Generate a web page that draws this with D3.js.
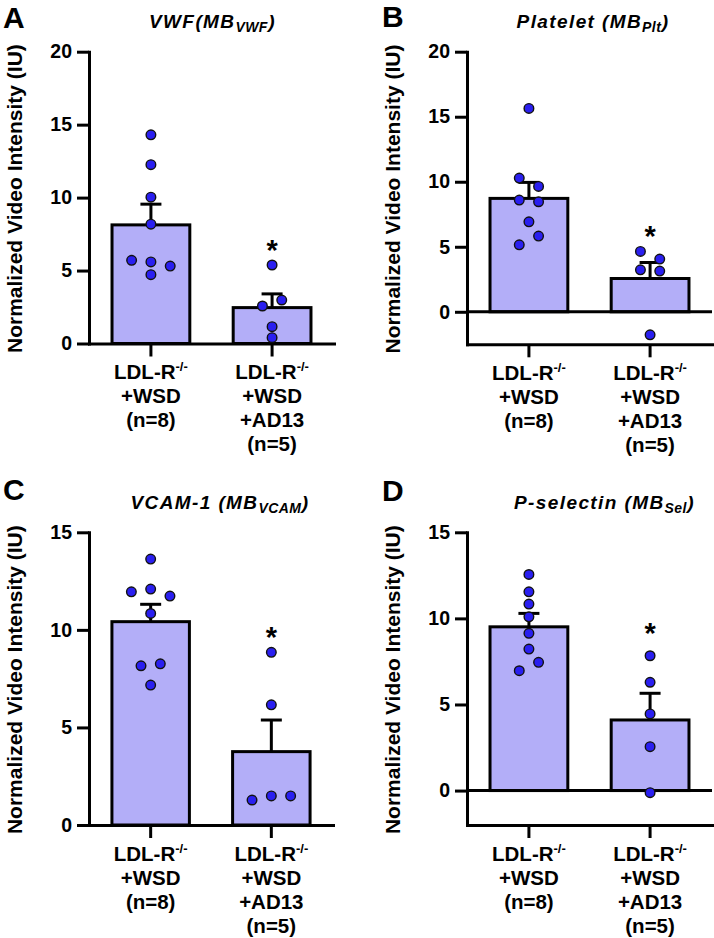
<!DOCTYPE html>
<html>
<head>
<meta charset="utf-8">
<script src="https://cdn.jsdelivr.net/npm/d3@7"></script>
<style>
  html, body { margin: 0; padding: 0; background: #fff; }
  svg { display: block; font-family: "Liberation Sans", Arial, Helvetica, sans-serif; }
</style>
</head>
<body>
<svg id="chart" width="714" height="938"></svg>
<script>
// ---------- data ----------
const categories = ["ctrl", "ad13"];
const catLineMain = ["LDL-R", "LDL-R"];
const catLineSup = ["-/-", "-/-"];
const catLinesRest = [["+WSD", "(n=8)"], ["+WSD", "+AD13", "(n=5)"]];

const yLabel = "Normalized Video Intensity (IU)";

// Panel A: VWF
const vwfCtrl = [14.3, 12.26, 10.03, 8.18, 5.7, 5.59, 5.31, 4.72];
const vwfAd13 = [5.38, 2.57, 2.98, 1.15, 0.4];
const vwfMean = [8.13, 2.46];
const vwfSem = [1.42, 0.94];
const vwfTicks = [0, 5, 10, 15, 20];
const vwfDomain = [0, 20];

// Panel B: Platelet
const pltCtrl = [15.64, 10.28, 9.64, 8.59, 8.46, 6.92, 5.15, 5.82];
const pltAd13 = [4.64, 4.05, 3.23, 3.13, -1.77];
const pltMean = [8.72, 2.56];
const pltSem = [1.23, 1.23];
const pltTicks = [0, 5, 10, 15, 20];
const pltDomain = [-2.5, 20];

// Panel C: VCAM-1
const vcamCtrl = [13.63, 11.95, 12.09, 11.73, 10.84, 8.16, 8.26, 7.17];
const vcamAd13 = [8.85, 6.16, 1.28, 1.49, 1.49];
const vcamMean = [10.42, 3.76];
const vcamSem = [0.89, 1.62];
const vcamTicks = [0, 5, 10, 15];
const vcamDomain = [0, 15];

// Panel D: P-selectin
const selCtrl = [12.55, 11.54, 10.83, 10.09, 9.13, 8.22, 6.96, 7.45];
const selAd13 = [7.83, 6.29, 4.45, 2.55, -0.12];
const selMean = [9.51, 4.1];
const selSem = [0.78, 1.55];
const selTicks = [0, 5, 10, 15];
const selDomain = [-2, 15];

// ---------- layout ----------
const BAR_FILL = "#b3aef8";
const DOT_FILL = "#2a1ff0";
const FONT = '"Liberation Sans", Arial, Helvetica, sans-serif';

const panels = [
  { letter: "A", title: "VWF(MB", sub: "VWF", points: [vwfCtrl, vwfAd13], mean: vwfMean, sem: vwfSem,
    ticks: vwfTicks, domain: vwfDomain,
    x0: 89, x1: 334, yBottom: 343.5, yTop: 51.7, titleX: 212.5, titleY: 28, letterX: 3, letterY: 28, starGap: 22 },
  { letter: "B", title: "Platelet (MB", sub: "Plt", points: [pltCtrl, pltAd13], mean: pltMean, sem: pltSem,
    ticks: pltTicks, domain: pltDomain,
    x0: 467, x1: 712, yBottom: 344.3, yTop: 51.7, titleX: 593, titleY: 28, letterX: 382, letterY: 27, starGap: 22 },
  { letter: "C", title: "VCAM-1 (MB", sub: "VCAM", points: [vcamCtrl, vcamAd13], mean: vcamMean, sem: vcamSem,
    ticks: vcamTicks, domain: vcamDomain,
    x0: 89, x1: 333, yBottom: 825, yTop: 532.3, titleX: 220, titleY: 509, letterX: 3, letterY: 500, starGap: 22 },
  { letter: "D", title: "P-selectin (MB", sub: "Sel", points: [selCtrl, selAd13], mean: selMean, sem: selSem,
    ticks: selTicks, domain: selDomain,
    x0: 467, x1: 712, yBottom: 825, yTop: 532.3, titleX: 604.5, titleY: 509, letterX: 382, letterY: 501, starGap: 29 }
];

const svg = d3.select("#chart");
svg.append("rect").attr("width", 714).attr("height", 938).attr("fill", "#fff");

// simple row-based column scatter: points closer than rowTol px share a row and spread symmetrically
function swarm(values, y, rowTol, spacing) {
  const idx = values.map((v, i) => i).sort((a, b) => values[b] - values[a] || a - b);
  const rows = [];
  let cur = null;
  idx.forEach(i => {
    const py = y(values[i]);
    if (cur && py - cur.startY <= rowTol) cur.items.push(i);
    else { cur = { startY: py, items: [i] }; rows.push(cur); }
  });
  const out = [];
  rows.forEach(r => {
    const items = r.items.slice().sort((a, b) => a - b);
    const n = items.length;
    items.forEach((i, k) => out.push({ v: values[i], off: (k - (n - 1) / 2) * spacing }));
  });
  return out;
}

panels.forEach(p => {
  const g = svg.append("g");
  const y = d3.scaleLinear().domain(p.domain).range([p.yBottom, p.yTop]);
  const x = d3.scaleBand().domain(categories).range([p.x0, p.x1]).paddingInner(0.358).paddingOuter(0.19);
  const bw = x.bandwidth();
  const cx = c => x(c) + bw / 2;

  // bars
  g.selectAll("rect.bar").data(categories).join("rect")
    .attr("class", "bar")
    .attr("x", c => x(c))
    .attr("width", bw)
    .attr("y", (c, i) => y(Math.max(0, p.mean[i])))
    .attr("height", (c, i) => Math.abs(y(p.mean[i]) - y(0)))
    .attr("fill", BAR_FILL)
    .attr("stroke", "#000")
    .attr("stroke-width", 3);

  // error bars (upper SEM)
  categories.forEach((c, i) => {
    const top = y(p.mean[i] + p.sem[i]);
    g.append("line").attr("x1", cx(c)).attr("x2", cx(c))
      .attr("y1", y(p.mean[i])).attr("y2", top)
      .attr("stroke", "#000").attr("stroke-width", 3);
    g.append("line").attr("x1", cx(c) - 10.5).attr("x2", cx(c) + 10.5)
      .attr("y1", top).attr("y2", top)
      .attr("stroke", "#000").attr("stroke-width", 3);
  });

  // zero line when domain goes negative
  if (p.domain[0] < 0) {
    g.append("line").attr("x1", p.x0).attr("x2", p.x1)
      .attr("y1", y(0)).attr("y2", y(0))
      .attr("stroke", "#000").attr("stroke-width", 3);
  }

  // axes
  const ya = g.append("g").attr("transform", `translate(${p.x0},0)`)
    .call(d3.axisLeft(y).tickValues(p.ticks).tickSize(12).tickSizeOuter(0).tickPadding(5).tickFormat(d3.format("d")));
  ya.select(".domain").attr("stroke-width", 3).attr("stroke-linecap", "square");
  ya.selectAll(".tick line").attr("stroke-width", 3);
  ya.selectAll(".tick text").attr("font-family", FONT).attr("font-size", 19.5).attr("font-weight", "bold").attr("fill", "#000");

  const xa = g.append("g").attr("transform", `translate(0,${p.yBottom})`)
    .call(d3.axisBottom(x).tickSize(13).tickSizeOuter(0).tickFormat(""));
  xa.select(".domain").attr("stroke-width", 3).attr("stroke-linecap", "square");
  xa.selectAll(".tick line").attr("stroke-width", 3);

  // points
  categories.forEach((c, i) => {
    const pts = swarm(p.points[i], y, 10, 19.3);
    g.selectAll(null).data(pts).join("circle")
      .attr("cx", d => cx(c) + d.off)
      .attr("cy", d => y(d.v))
      .attr("r", 4.8)
      .attr("fill", DOT_FILL)
      .attr("stroke", "#111")
      .attr("stroke-width", 1.4);
  });

  // significance star above AD13 group
  const topVal = d3.max(p.points[1]);
  g.append("text").attr("x", cx(categories[1])).attr("y", y(topVal) - p.starGap + 16.5)
    .attr("text-anchor", "middle").attr("font-family", FONT).attr("font-size", 29).attr("font-weight", "bold")
    .text("*");

  // category labels
  categories.forEach((c, i) => {
    const base = p.yBottom + 35.5;
    const t = g.append("text").attr("x", cx(c)).attr("y", base)
      .attr("text-anchor", "middle").attr("font-family", FONT).attr("font-size", 20.5).attr("font-weight", "bold");
    t.append("tspan").text(catLineMain[i]);
    t.append("tspan").attr("font-size", 13).attr("dy", -8).text(catLineSup[i]);
    catLinesRest[i].forEach((ln, k) => {
      g.append("text").attr("x", cx(c)).attr("y", base + 24 * (k + 1))
        .attr("text-anchor", "middle").attr("font-family", FONT).attr("font-size", 20.5).attr("font-weight", "bold")
        .text(ln);
    });
  });

  // y label
  const ly = (p.yTop + p.yBottom) / 2 + 1;
  g.append("text").attr("transform", `translate(${p.x0 - 67},${ly}) rotate(-90)`)
    .attr("text-anchor", "middle").attr("font-family", FONT).attr("font-size", 21).attr("font-weight", "bold")
    .text(yLabel);

  // title
  const tt = g.append("text").attr("x", p.titleX).attr("y", p.titleY)
    .attr("text-anchor", "middle").attr("font-family", FONT).attr("font-size", 19)
    .attr("font-weight", "bold").attr("font-style", "italic").attr("letter-spacing", 1.4);
  tt.append("tspan").text(p.title);
  tt.append("tspan").attr("font-size", 14).attr("dy", 4).attr("letter-spacing", 0.4).text(p.sub);
  tt.append("tspan").attr("dy", -4).attr("dx", 0.5).text(")");

  // panel letter
  g.append("text").attr("x", p.letterX).attr("y", p.letterY)
    .attr("font-family", FONT).attr("font-size", 30).attr("font-weight", "bold").text(p.letter);
});
</script>
</body>
</html>
